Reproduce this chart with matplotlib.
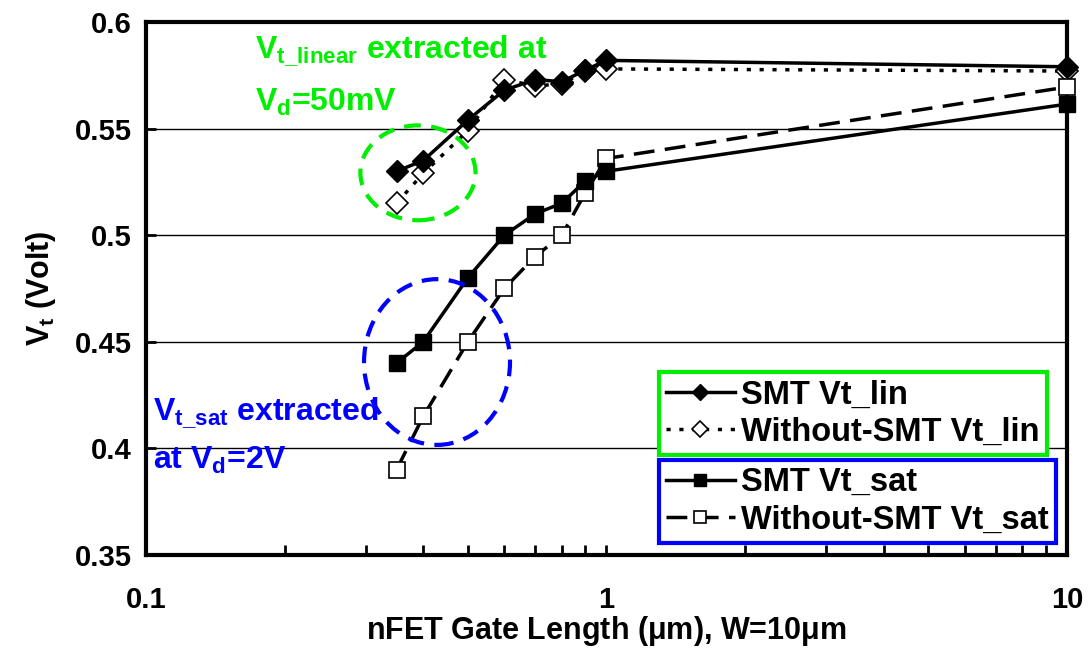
import numpy as np
import matplotlib
matplotlib.use('Agg')
import matplotlib.pyplot as plt
from matplotlib.patches import Ellipse
from matplotlib.ticker import FixedLocator, FixedFormatter, LogLocator, NullFormatter

plt.rcParams['font.family'] = ['Liberation Sans', 'DejaVu Sans']
plt.rcParams['font.weight'] = 'bold'
plt.rcParams['axes.labelweight'] = 'bold'
plt.rcParams['mathtext.fontset'] = 'custom'
plt.rcParams['mathtext.rm'] = 'Liberation Sans:bold'
plt.rcParams['mathtext.bf'] = 'Liberation Sans:bold'
plt.rcParams['mathtext.it'] = 'Liberation Sans:bold'
plt.rcParams['mathtext.default'] = 'rm'

# gate length (um)
gate_len = [0.35, 0.4, 0.5, 0.6, 0.7, 0.8, 0.9, 1.0, 10.0]

# threshold voltages (V)
smt_lin = [0.530, 0.535, 0.554, 0.568, 0.573, 0.572, 0.5775, 0.582, 0.579]
nosmt_lin = [0.515, 0.529, 0.549, 0.573, 0.570, 0.571, 0.577, 0.578, 0.577]
smt_sat = [0.440, 0.450, 0.480, 0.500, 0.510, 0.515, 0.5255, 0.530, 0.5615]
nosmt_sat = [0.390, 0.415, 0.450, 0.475, 0.490, 0.500, 0.520, 0.536, 0.5695]

green = '#00ee00'
blue = '#0000ff'

fig = plt.figure(figsize=(10.91, 6.57), dpi=100)
ax = fig.add_axes([0.1338, 0.1553, 0.8442, 0.8112])

l1, = ax.plot(gate_len, smt_lin, color='black', lw=2.5, marker='D', ms=11,
              mfc='black', mec='black', label='SMT Vt_lin', zorder=4, clip_on=False)
l2, = ax.plot(gate_len, nosmt_lin, color='black', lw=2.5, ls=(0, (1.2, 2.5)),
              marker='D', ms=11, mfc='white', mec='black', mew=1.2,
              label='Without-SMT Vt_lin', zorder=3, clip_on=False)
l3, = ax.plot(gate_len, smt_sat, color='black', lw=2.5, marker='s', ms=12,
              mfc='black', mec='black', label='SMT Vt_sat', zorder=4, clip_on=False)
l4, = ax.plot(gate_len, nosmt_sat, color='black', lw=2.5, ls=(0, (6, 3)),
              marker='s', ms=12, mfc='white', mec='black', mew=1.2,
              label='Without-SMT Vt_sat', zorder=3, clip_on=False)

ax.set_xscale('log')
ax.set_xlim(0.1, 10)
ax.set_ylim(0.35, 0.6)

ax.xaxis.set_major_locator(FixedLocator([0.1, 1, 10]))
ax.xaxis.set_major_formatter(FixedFormatter(['0.1', '1', '10']))
ax.xaxis.set_minor_locator(LogLocator(base=10, subs=np.arange(2, 10)))
ax.xaxis.set_minor_formatter(NullFormatter())
ax.set_yticks([0.35, 0.4, 0.45, 0.5, 0.55, 0.6])
ax.set_yticklabels(['0.35', '0.4', '0.45', '0.5', '0.55', '0.6'])

ax.tick_params(axis='both', which='both', direction='in', width=2, labelsize=21)
ax.tick_params(axis='both', which='major', length=7)
ax.tick_params(axis='x', which='minor', length=7)
ax.tick_params(axis='x', pad=22)
ax.tick_params(axis='y', pad=10)

for s in ax.spines.values():
    s.set_linewidth(3)

for yv in [0.4, 0.45, 0.5, 0.55]:
    ax.axhline(yv, color='black', lw=1, zorder=1)

ax.set_xlabel(r'nFET Gate Length ($\mu$m), W=10$\mu$m', fontsize=22, labelpad=0)
ax.set_ylabel(r'V$_\mathregular{t}$ (Volt)', fontsize=22, labelpad=12)

# annotations
ax.text(0.118, 0.978, r'V$_\mathregular{t\_linear}$ extracted at', transform=ax.transAxes,
        color=green, fontsize=23, va='top', ha='left')
ax.text(0.118, 0.878, r'V$_\mathregular{d}$=50mV', transform=ax.transAxes,
        color=green, fontsize=23, va='top', ha='left')
ax.text(0.008, 0.30, r'V$_\mathregular{t\_sat}$ extracted', transform=ax.transAxes,
        color=blue, fontsize=23, va='top', ha='left')
ax.text(0.008, 0.207, r'at V$_\mathregular{d}$=2V', transform=ax.transAxes,
        color=blue, fontsize=23, va='top', ha='left')

ax.add_patch(Ellipse((0.2953, 0.717), 0.125, 0.178, transform=ax.transAxes,
                     fill=False, ec=green, lw=3, ls=(0, (4, 2.5)), zorder=5))
ax.add_patch(Ellipse((0.316, 0.362), 0.1585, 0.311, transform=ax.transAxes,
                     fill=False, ec=blue, lw=3, ls=(0, (4, 2.5)), zorder=5))

leg_kw = dict(loc='upper left', fontsize=23.5, frameon=True, fancybox=False,
              framealpha=1, borderpad=0.22, handlelength=2.1, markerscale=0.75,
              handletextpad=0.2, labelspacing=0.2, borderaxespad=0)
leg1 = ax.legend(handles=[l1, l2], bbox_to_anchor=(0.557, 0.343),
                 edgecolor=green, **leg_kw)
leg1.get_frame().set_linewidth(3)
ax.add_artist(leg1)
leg2 = ax.legend(handles=[l3, l4], bbox_to_anchor=(0.557, 0.178),
                 edgecolor=blue, **leg_kw)
leg2.get_frame().set_linewidth(3)

fig.savefig('out.png', dpi=100)
